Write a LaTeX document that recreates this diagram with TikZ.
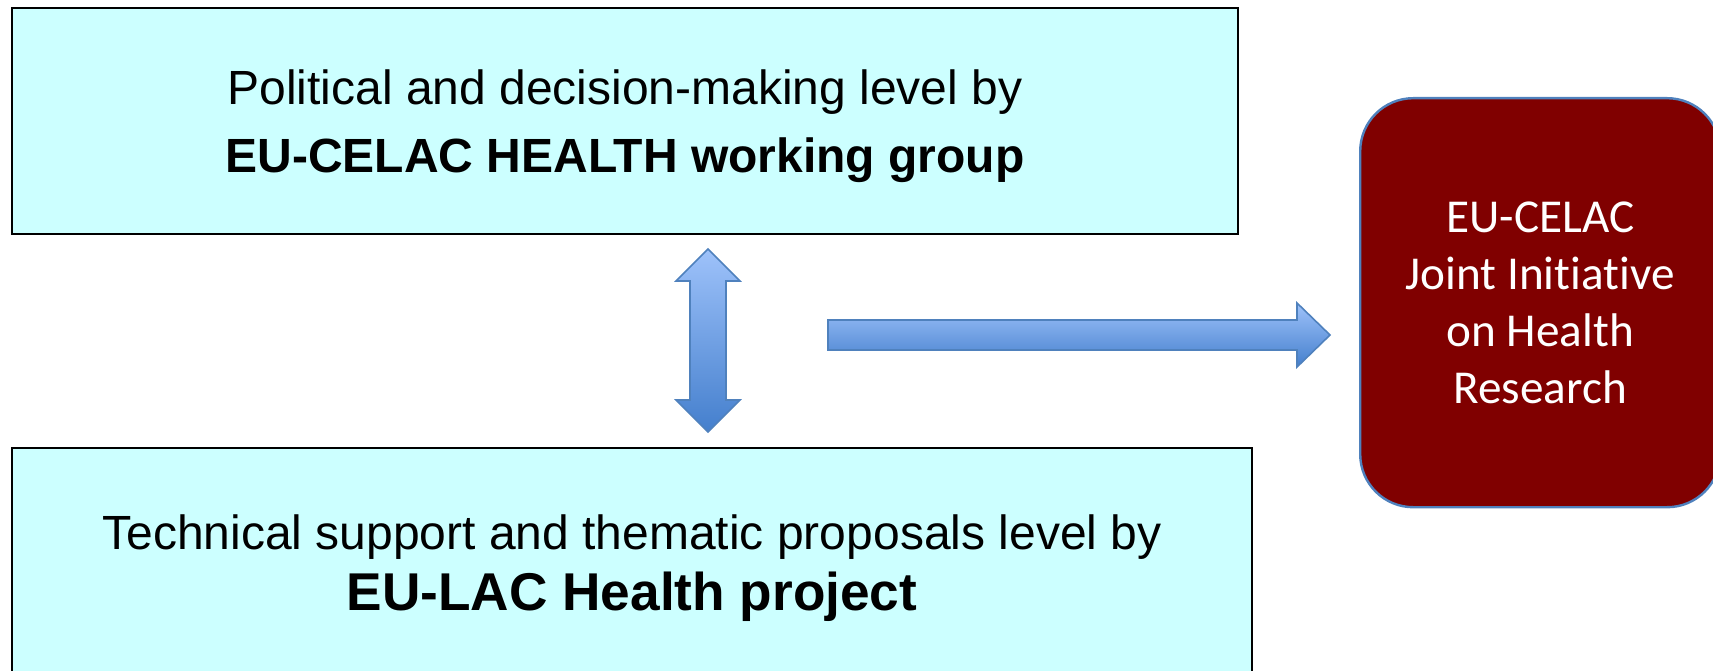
\documentclass[tikz,border=0pt]{standalone}
\usepackage{fontspec}
\setmainfont{Liberation Sans}
\newfontfamily\carlitofont[Ligatures={NoCommon,NoContextual}]{Carlito}
\usepackage{tikz}
\usetikzlibrary{positioning}

\definecolor{levelcyan}{RGB}{204,255,255}
\definecolor{jointred}{RGB}{128,0,0}
\definecolor{arrowline}{RGB}{79,129,189}
\definecolor{arrowlight}{RGB}{158,194,250}
\definecolor{arrowdark}{RGB}{68,127,205}

\tikzset{
  level box/.style={draw=black, line width=1pt, fill=levelcyan, align=center, inner sep=0pt, text depth=0pt},
  joint box/.style={draw=arrowline, line width=1.2pt, fill=jointred, text=white, rounded corners=26.5pt,
    align=center, inner sep=0pt, text depth=0pt, font=\carlitofont\fontsize{23.6pt}{28.35pt}\selectfont},
  block arrow/.style={draw=arrowline, line width=0.8pt, top color=arrowlight, bottom color=arrowdark}
}

\begin{document}
\begin{tikzpicture}[x=0.5pt,y=0.5pt]
  \useasboundingbox (0,0) rectangle (1713,670);

  \node[level box, minimum width=613pt, minimum height=113pt, font=\fontsize{24pt}{34pt}\selectfont] (political) at (625,549)
    {Political and decision-making level by\\ \textbf{EU-CELAC HEALTH working group}};
  \node[level box, minimum width=620pt, minimum height=114.5pt, font=\fontsize{24pt}{30.5pt}\selectfont,
    below right=106pt and 0pt of political.south west] (technical)
    {Technical support and thematic proposals level by\\ {\fontsize{26.6pt}{30.5pt}\selectfont\bfseries EU-LAC Health project}};
  \node[joint box, minimum width=180pt, minimum height=204.5pt, below right=45pt and 60pt of political.north east] (joint)
    {EU-CELAC\\Joint Initiative\\on Health\\Research};

  % block arrows
  \coordinate (up) at (708,421);
  \coordinate (tail) at (828,350);
  \shadedraw[block arrow] (up) -- ++(32,-32) -- ++(-14,0) -- ++(0,-119) -- ++(14,0) -- ++(-32,-32)
    -- ++(-32,32) -- ++(14,0) -- ++(0,119) -- ++(-14,0) -- cycle;
  \shadedraw[block arrow] (tail) -- ++(469,0) -- ++(0,17) -- ++(33,-32) -- ++(-33,-32) -- ++(0,17) -- ++(-469,0) -- cycle;
\end{tikzpicture}
\end{document}
